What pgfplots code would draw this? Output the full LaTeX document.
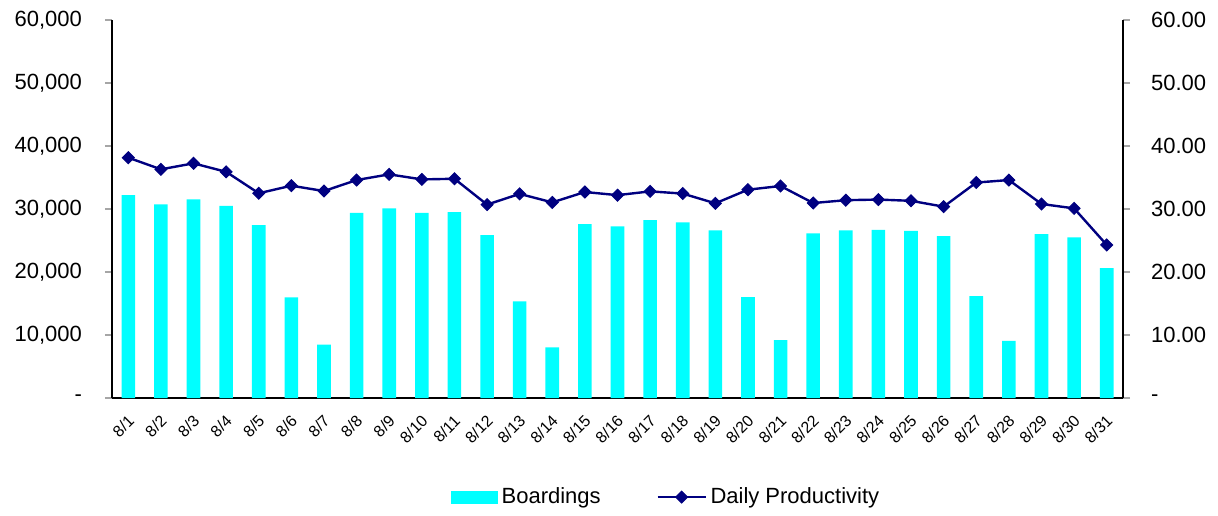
\documentclass[border=0pt]{standalone}
\usepackage{pgfplots}
\pgfplotsset{compat=1.18}
\usepackage{pgfplotstable}
\usepackage{fontspec}
\setmainfont{Liberation Sans}
\definecolor{barcyan}{HTML}{00FFFF}
\definecolor{linenavy}{HTML}{000080}
\pgfplotstableread{
i b p
0 32220 38.15
1 30740 36.30
2 31530 37.25
3 30480 35.90
4 27460 32.50
5 15980 33.70
6 8460 32.85
7 29370 34.60
8 30110 35.50
9 29370 34.70
10 29520 34.80
11 25870 30.70
12 15340 32.40
13 8040 31.05
14 27620 32.70
15 27250 32.20
16 28250 32.80
17 27880 32.45
18 26610 30.90
19 16030 33.07
20 9200 33.65
21 26140 30.95
22 26610 31.40
23 26670 31.50
24 26510 31.30
25 25710 30.37
26 16190 34.20
27 9050 34.60
28 26030 30.80
29 25500 30.10
30 20630 24.30
}\data
\pgfplotsset{
 lineleg/.style={legend image code/.code={\draw[mark repeat=2,mark phase=2,##1, line width=0.9pt] plot coordinates {(0pt,0pt) (12pt,0pt) (24pt,0pt)};}},
 barleg/.style={legend image code/.code={\fill[barcyan] (0pt,-3pt) rectangle (23pt,3pt);}},
}
\begin{document}
\begin{tikzpicture}
\pgfplotsset{
 common/.style={
  scale only axis, width=505.5pt, height=189pt,
  at={(0pt,0pt)}, anchor=south west,
  xmin=-0.5, xmax=30.5, ymin=0,
  tick align=outside,
  major tick length=3.5pt,
  scaled y ticks=false,
  ytick style={draw=gray!70, line width=0.6pt},
  axis line style={-, line width=0.7pt, black},
  ticklabel style={font=\fontsize{11pt}{13pt}\selectfont},
 }
}
\begin{axis}[common, name=ax, ymax=60000,
  axis x line*=bottom, axis y line*=left,
  ytick={0,10000,20000,30000,40000,50000,60000},
  yticklabels={-,{10,000},{20,000},{30,000},{40,000},{50,000},{60,000}},
  yticklabel style={xshift=-8pt},
  xtick={0,...,30},
  xticklabels={8/1,8/2,8/3,8/4,8/5,8/6,8/7,8/8,8/9,8/10,8/11,8/12,8/13,8/14,8/15,8/16,8/17,8/18,8/19,8/20,8/21,8/22,8/23,8/24,8/25,8/26,8/27,8/28,8/29,8/30,8/31},
  xtick style={draw=none},
  xticklabel style={font=\fontsize{8pt}{9.5pt}\selectfont, xshift=1.5pt, yshift=-6.5pt, rotate=45, anchor=east, inner sep=0pt},
]
\addplot[ybar, bar width=6.8pt, fill=barcyan, draw=none] table[x=i, y=b] {\data};
\end{axis}
\begin{axis}[common, ymax=60,
  axis x line=none, axis y line*=right,
  ytick={0,10,20,30,40,50,60},
  yticklabels={-,10.00,20.00,30.00,40.00,50.00,60.00},
  yticklabel style={xshift=7pt},
  legend columns=2,
  legend style={at={(0.549,-0.262)}, anchor=center, draw=none, fill=none,
    font=\fontsize{11pt}{13pt}\selectfont,
    /tikz/every even column/.append style={column sep=26pt}},
]
\addlegendimage{barleg}
\addlegendentry{Boardings}
\addplot[linenavy, line width=1.2pt, mark=square*, mark size=2.1pt,
  mark options={rotate=45, fill=linenavy, line width=0.5pt}, lineleg]
  table[x=i, y=p] {\data};
\addlegendentry{Daily Productivity}
\end{axis}
\pgfresetboundingbox
\path[use as bounding box] (-56pt,-58.5pt) rectangle ++(609pt,257.5pt);
\end{tikzpicture}
\end{document}
